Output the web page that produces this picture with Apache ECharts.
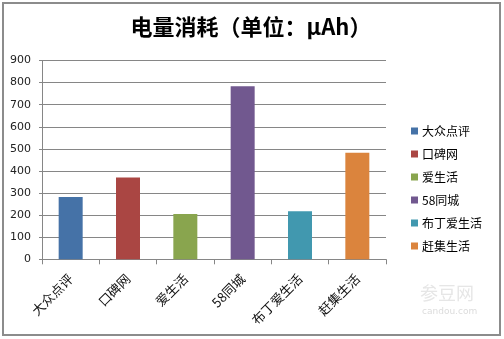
<!DOCTYPE html>
<html><head><meta charset="utf-8">
<script src="https://cdn.jsdelivr.net/npm/echarts@6/dist/echarts.min.js"></script>
<style>html,body{margin:0;padding:0;background:#fff}#c{width:504px;height:339px}</style>
</head><body><div id="c"></div>
<script>
var categories = ['大众点评','口碑网','爱生活','58同城','布丁爱生活','赶集生活'];
var values = [282, 370, 205, 783, 218, 482];
var colors = ['#4572A7','#AA4643','#89A54E','#71588F','#4198AF','#DB843D'];
var yTicks = {min: 0, max: 900, interval: 100};
var titleText = '电量消耗（单位：μAh）';

var chart = echarts.init(document.getElementById('c'), null, {renderer: 'canvas'});
var series = categories.map(function (name, i) {
  return {
    name: name, type: 'bar', stack: 'all', barWidth: 24,
    itemStyle: {color: colors[i]},
    data: categories.map(function (c, j) { return j === i ? values[i] : '-'; })
  };
});
chart.setOption({
  animation: false,
  backgroundColor: '#fff',
  title: {text: titleText, left: 246, textAlign: 'center', top: 11,
    textStyle: {fontFamily: 'Noto Sans CJK SC', fontSize: 22, fontWeight: 'bold', color: '#000'}},
  grid: {left: 42, right: 118, top: 60.5, bottom: 79.7, containLabel: false},
  legend: {orient: 'vertical', left: 406, top: 120, itemWidth: 7, itemHeight: 7, itemGap: 11,
    icon: 'rect', data: categories,
    textStyle: {fontFamily: 'Noto Sans CJK SC', fontSize: 12, color: '#000', padding: [0,0,0,-1]}},
  xAxis: {type: 'category', data: categories,
    axisLine: {lineStyle: {color: '#868686', width: 1}},
    axisTick: {show: true, length: 5, lineStyle: {color: '#868686'}},
    axisLabel: {rotate: 45, margin: 17, fontFamily: 'Noto Sans CJK SC', fontSize: 13, color: '#111'}},
  yAxis: {type: 'value', min: yTicks.min, max: yTicks.max, interval: yTicks.interval,
    axisLine: {show: true, lineStyle: {color: '#868686', width: 1}},
    axisTick: {show: true, length: 3, lineStyle: {color: '#868686'}},
    splitLine: {lineStyle: {color: '#868686', width: 1}},
    axisLabel: {margin: 11, fontFamily: 'DejaVu Sans', fontSize: 11, color: '#222'}},
  graphic: [
    {type: 'rect', shape: {x: 3, y: 3, width: 497, height: 332},
      style: {fill: 'none', stroke: '#8c8c8c', lineWidth: 2}, z: 100},
    {type: 'text', left: 420, top: 284, style: {text: '参豆网', fontFamily: 'Noto Sans CJK SC', fontSize: 18, fill: '#e6e6e6'}},
    {type: 'text', left: 422, top: 307, style: {text: 'candou.com', fontFamily: 'DejaVu Sans', fontSize: 9, fill: '#dcdcdc'}}
  ],
  series: series
});
</script></body></html>
